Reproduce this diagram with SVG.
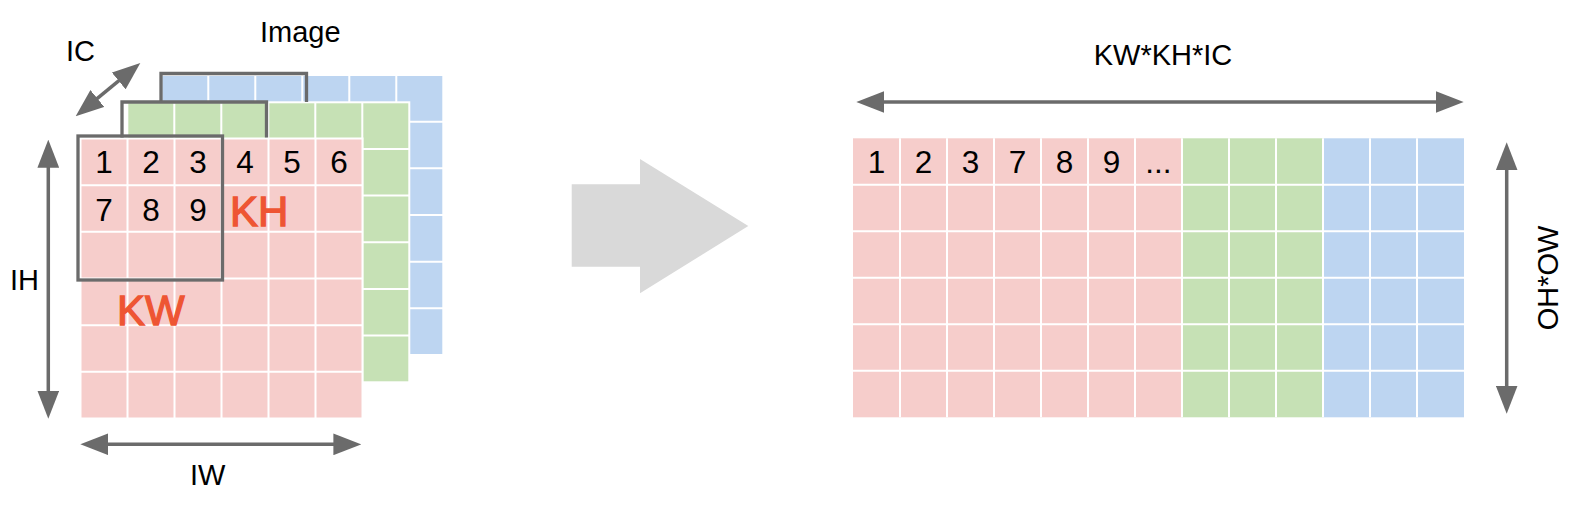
<svg xmlns="http://www.w3.org/2000/svg" width="1581" height="507" viewBox="0 0 1581 507">
<style>
.pink{fill:#F6CDCB}
.green{fill:#C6E1B5}
.blue{fill:#BDD5F1}
.cell{stroke:#FFFFFF;stroke-width:2}
.grid{stroke:#FFFFFF;stroke-width:2;fill:none}
.win{fill:none;stroke:#6B6B6B;stroke-width:3.3;stroke-linejoin:miter}
.arr{stroke:#6B6B6B;stroke-width:3.5;fill:none}
.lbl{font-family:"Liberation Sans",Arial,sans-serif;font-size:29px;fill:#000}
.num{font-family:"Liberation Sans",Arial,sans-serif;font-size:31.5px;fill:#000;text-anchor:middle}
.red{font-family:"Liberation Sans",Arial,sans-serif;font-size:42px;fill:#EE5533;stroke:#EE5533;stroke-width:1.3}
</style>
<defs>
<marker id="head" markerUnits="userSpaceOnUse" markerWidth="28" markerHeight="22" viewBox="0 0 27 21" refX="17" refY="10.5" orient="auto-start-reverse">
<path d="M0,0 L27,10.5 L0,21 Z" fill="#6B6B6B"/>
</marker>
</defs>
<rect width="1581" height="507" fill="#FFFFFF"/>

<g id="image-blue-channel">
<rect class="blue cell" x="161.3" y="75" width="282" height="280"/>
<path class="grid" d="M208.3,75V355M255.3,75V355M302.3,75V355M349.3,75V355M396.3,75V355M161.3,121.7H443.3M161.3,168.3H443.3M161.3,215H443.3M161.3,261.7H443.3M161.3,308.3H443.3"/>
</g>
<g id="image-green-channel">
<rect class="green cell" x="127.3" y="102.3" width="282" height="280"/>
<path class="grid" d="M174.3,102.3V382.3M221.3,102.3V382.3M268.3,102.3V382.3M315.3,102.3V382.3M362.3,102.3V382.3M127.3,149H409.3M127.3,195.6H409.3M127.3,242.3H409.3M127.3,289H409.3M127.3,335.6H409.3"/>
</g>
<g id="image-pink-channel">
<rect class="pink cell" x="80.5" y="138.5" width="282" height="280"/>
<path class="grid" d="M127.5,138.5V418.5M174.5,138.5V418.5M221.5,138.5V418.5M268.5,138.5V418.5M315.5,138.5V418.5M80.5,185.2H362.5M80.5,231.8H362.5M80.5,278.5H362.5M80.5,325.2H362.5M80.5,371.8H362.5"/>
<text class="num" x="104" y="173">1</text>
<text class="num" x="151" y="173">2</text>
<text class="num" x="198" y="173">3</text>
<text class="num" x="245" y="173">4</text>
<text class="num" x="292" y="173">5</text>
<text class="num" x="339" y="173">6</text>
<text class="num" x="104" y="220.5">7</text>
<text class="num" x="151" y="220.5">8</text>
<text class="num" x="198" y="220.5">9</text>
<text class="red" x="230" y="226">KH</text>
<text class="red" x="117" y="325">KW</text>
</g>
<g id="kernel-windows">
<path class="win" d="M161,102V73.5H306.5V102"/>
<path class="win" d="M122,137.5V102H266.5V137.5"/>
<rect class="win" x="78" y="136" width="144.5" height="144"/>
</g>

<g id="labels">
<text class="lbl" x="260" y="42">Image</text>
<text class="lbl" x="66" y="61">IC</text>
<text class="lbl" x="10" y="290">IH</text>
<text class="lbl" x="190" y="485">IW</text>
<text class="lbl" x="1163" y="65" text-anchor="middle">KW*KH*IC</text>
<text class="lbl" transform="translate(1558,278) rotate(-90)" text-anchor="middle">OH*OW</text>
</g>

<g id="transform-arrow">
<polygon points="571.7,184.3 640,184.3 640,159 748.3,226 640,293.3 640,266.7 571.7,266.7" fill="#D9D9D9"/>
</g>

<g id="matrix">
<rect class="pink" x="853" y="138.3" width="329" height="279"/>
<rect class="green" x="1182" y="138.3" width="141" height="279"/>
<rect class="blue" x="1323" y="138.3" width="141" height="279"/>
<path class="grid" d="M900,138.3V417.3M947,138.3V417.3M994,138.3V417.3M1041,138.3V417.3M1088,138.3V417.3M1135,138.3V417.3M1182,138.3V417.3M1229,138.3V417.3M1276,138.3V417.3M1323,138.3V417.3M1370,138.3V417.3M1417,138.3V417.3M853,184.8H1464M853,231.3H1464M853,277.8H1464M853,324.3H1464M853,370.8H1464"/>
<text class="num" x="876.5" y="173">1</text>
<text class="num" x="923.5" y="173">2</text>
<text class="num" x="970.5" y="173">3</text>
<text class="num" x="1017.5" y="173">7</text>
<text class="num" x="1064.5" y="173">8</text>
<text class="num" x="1111.5" y="173">9</text>
<text class="num" x="1158.5" y="173">...</text>
</g>

<g id="connectors">
<line class="arr" x1="83.7" y1="109.6" x2="132.3" y2="69.7" marker-start="url(#head)" marker-end="url(#head)"/>
<line class="arr" x1="48.3" y1="150" x2="48.3" y2="408.3" marker-start="url(#head)" marker-end="url(#head)"/>
<line class="arr" x1="90.7" y1="444.3" x2="351" y2="444.3" marker-start="url(#head)" marker-end="url(#head)"/>
<line class="arr" x1="866.7" y1="102" x2="1453.3" y2="102" marker-start="url(#head)" marker-end="url(#head)"/>
<line class="arr" x1="1506.7" y1="152.7" x2="1506.7" y2="403.3" marker-start="url(#head)" marker-end="url(#head)"/>
</g>
</svg>
